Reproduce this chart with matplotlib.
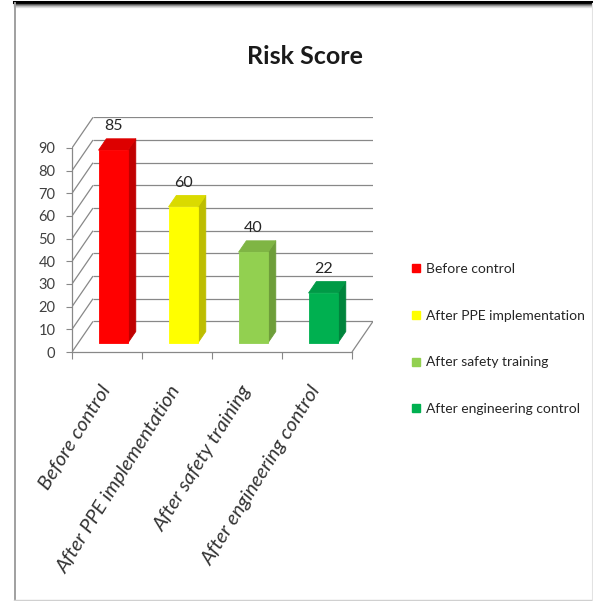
import matplotlib.pyplot as plt
from matplotlib.patches import Polygon
from matplotlib.lines import Line2D

categories = ["Before control", "After PPE implementation",
              "After safety training", "After engineering control"]
scores = [85, 60, 40, 22]
front_colors = ["#FF0000", "#FFFF00", "#92D050", "#00B050"]
side_colors = ["#C00000", "#BDBD00", "#6E9E3A", "#00843C"]
top_colors = ["#DD0000", "#DADA00", "#7FB544", "#009A46"]
y_ticks = [0, 10, 20, 30, 40, 50, 60, 70, 80, 90]

plt.rcParams['font.family'] = ['Lato', 'DejaVu Sans']

W, H = 593, 601
fig = plt.figure(figsize=(W / 100, H / 100), dpi=100)

# pseudo-3D box: wall depth in data units, and pixel scale of the front plane
depth_x, depth_y = 0.3, 13.5
px_x, px_y = 70.0, 2.267
x0_px, y0_px = 72, 352
xmax = len(categories) + depth_x
ymax = max(y_ticks) + depth_y
ax = fig.add_axes([x0_px / W, 1 - y0_px / H, xmax * px_x / W, ymax * px_y / H])
ax.set_xlim(0, xmax)
ax.set_ylim(0, ymax)

grid_kw = dict(color="#888888", lw=0.9, zorder=1, solid_capstyle='butt')
for t in y_ticks:
    # side wall diagonal + back wall line
    ax.plot([0, depth_x], [t, t + depth_y], **grid_kw)
    ax.plot([depth_x, xmax], [t + depth_y, t + depth_y], **grid_kw)
ax.plot([len(categories), xmax], [0, depth_y], **grid_kw)

# columns sit part way into the box
bar_w = 0.42
f0, fd = 0.3, 0.37
ox, oy = f0 * depth_x, f0 * depth_y
bx, by = fd * depth_x, fd * depth_y
for i, v in enumerate(scores):
    left = i + 0.5 - bar_w / 2 + ox
    right = left + bar_w
    base = oy
    top = base + v
    front = [(left, base), (right, base), (right, top), (left, top)]
    side = [(right, base), (right + bx, base + by), (right + bx, top + by), (right, top)]
    cap = [(left, top), (right, top), (right + bx, top + by), (left + bx, top + by)]
    for pts, c in [(side, side_colors[i]), (cap, top_colors[i]), (front, front_colors[i])]:
        ax.add_patch(Polygon(pts, closed=True, fc=c, ec=c, lw=0.6,
                             joinstyle='round', zorder=3))
    ax.annotate(str(v), xy=((left + right) / 2, top + by),
                xytext=(0, 4), textcoords='offset points',
                ha='center', va='bottom', fontsize=11.5, color='#262626', zorder=4)

for s in ['top', 'right']:
    ax.spines[s].set_visible(False)
ax.spines['left'].set_bounds(0, max(y_ticks))
ax.spines['bottom'].set_bounds(0, len(categories))
for s in ['left', 'bottom']:
    ax.spines[s].set_color("#888888")
    ax.spines[s].set_linewidth(0.9)

ax.set_yticks(y_ticks)
ax.tick_params(axis='y', length=4, color="#888888", labelsize=10.5,
               labelcolor="#404040", pad=8)

ax.set_xticks(range(len(categories) + 1), [""] * (len(categories) + 1))
ax.tick_params(axis='x', which='major', length=5, color="#888888")
centers = [i + 0.5 for i in range(len(categories))]
ax.set_xticks(centers, categories, minor=True, rotation=58, ha='right',
              va='center', rotation_mode='anchor', fontstyle='italic',
              fontsize=14.5, color="#333333")
ax.tick_params(axis='x', which='minor', length=0, pad=25)

fig.text(305 / W, 1 - 57 / H, "Risk Score", ha='center', va='center',
         fontsize=18, fontweight='bold', color='#1A1A1A')

handles = [Line2D([], [], ls='none', marker='s', markersize=6, mfc=c, mec=c)
           for c in front_colors]
fig.legend(handles, categories, loc='upper left',
           bbox_to_anchor=(412 / W, 1 - 263 / H), frameon=False, fontsize=10,
           handlelength=0.6, handletextpad=0.4, labelspacing=2.5,
           borderpad=0, borderaxespad=0, labelcolor='#262626')

# outer frame
fig.add_artist(Line2D([14 / W, 1], [1 - 1.5 / H] * 2, color='black', lw=2.2))
for k, c in enumerate(['#555555', '#8A8A8A', '#BBBBBB', '#DDDDDD']):
    y = 1 - (3.5 + k * 1.2) / H
    fig.add_artist(Line2D([14 / W, 1], [y, y], color=c, lw=0.9))
fig.add_artist(Line2D([15 / W] * 2, [0, 1 - 3 / H], color='#A0A0A0', lw=1.4))
fig.add_artist(Line2D([14 / W, 1], [1.5 / H] * 2, color='#D0D0D0', lw=1.0))
fig.add_artist(Line2D([1 - 1 / W] * 2, [0, 1 - 3 / H], color='#E2E2E2', lw=0.8))

fig.savefig("out.png", dpi=100)
